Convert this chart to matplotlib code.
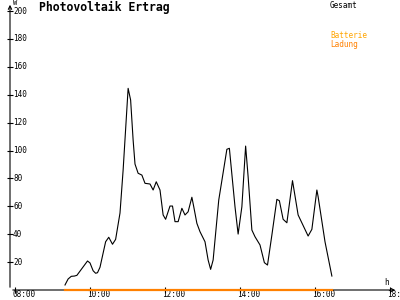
import matplotlib
matplotlib.use('Agg')
import matplotlib.pyplot as plt
from matplotlib.transforms import ScaledTranslation

# Ertrag in W, Zeitpunkte als HH:MM
times = ['09:20', '09:25', '09:30', '09:35', '09:39', '09:56', '10:00', '10:05', '10:09', '10:12',
         '10:16', '10:25', '10:30', '10:36', '10:41', '10:48', '10:53', '11:01', '11:05', '11:09',
         '11:12', '11:17', '11:23', '11:28', '11:36', '11:41', '11:46', '11:52', '11:57', '12:01',
         '12:08', '12:12', '12:16', '12:21', '12:27', '12:32', '12:37', '12:43', '12:46', '12:51',
         '12:56', '13:04', '13:09', '13:13', '13:17', '13:26', '13:39', '13:43', '13:52', '13:57',
         '14:03', '14:09', '14:13', '14:19', '14:24', '14:32', '14:39', '14:44', '14:51', '14:59',
         '15:03', '15:09', '15:15', '15:24', '15:33', '15:49', '15:55', '16:03', '16:05', '16:16',
         '16:27']
gesamt = [3.6, 7.9, 9.8, 10.0, 10.5, 20.8, 19.4, 13.8, 12.0, 12.4,
          16.3, 34.6, 37.8, 32.8, 36.3, 55.2, 86.0, 144.6, 136.2, 107.5,
          90.3, 83.7, 82.4, 76.5, 76.0, 71.7, 77.6, 71.7, 53.8, 50.7,
          60.2, 60.2, 49.0, 49.0, 58.6, 53.8, 56.1, 66.5, 59.7, 47.8,
          41.8, 34.6, 21.5, 14.8, 21.5, 64.5, 100.9, 101.6, 59.7, 40.1,
          59.7, 103.2, 81.2, 43.0, 38.2, 32.3, 19.6, 17.9, 39.4, 65.0,
          64.0, 50.7, 48.2, 78.4, 53.8, 38.7, 43.5, 71.7, 66.9, 34.6,
          10.0]
ladung = [0.0] * len(times)

x_ticks = [8, 10, 12, 14, 16, 18]
x_labels = ['08:00', '10:00', '12:00', '14:00', '16:00', '18:']
y_ticks = [20, 40, 60, 80, 100, 120, 140, 160, 180, 200]


def to_hours(t):
    h, m = t.split(':')
    return int(h) + int(m) / 60.0


hours = [to_hours(t) for t in times]
mono = 'DejaVu Sans Mono'

fig = plt.figure(figsize=(4, 3), dpi=100)
ax = fig.add_axes([10 / 400, 10 / 300, 388 / 400, 288 / 300])
ax.set_xlim(8 - 5 / 37.5, 8 + 383 / 37.5)
ax.set_ylim(0, 206.5)

ax.plot(hours, gesamt, color='black', lw=0.8)
ax.plot(hours, ladung, color='#ff8000', lw=1.6, clip_on=False, zorder=4)

for s in ax.spines.values():
    s.set_visible(False)
ax.annotate('', xy=(1, 0), xytext=(0, 0), xycoords='axes fraction',
            arrowprops=dict(arrowstyle='->', lw=0.8, color='black', mutation_scale=6))
ax.annotate('', xy=(0, 1), xytext=(0, 0), xycoords='axes fraction',
            arrowprops=dict(arrowstyle='->', lw=0.8, color='black', mutation_scale=6))

ax.set_xticks(x_ticks)
ax.set_yticks(y_ticks)
ax.set_xticklabels([])
ax.set_yticklabels([])
ax.tick_params(direction='inout', length=5, width=0.8, color='black')

xoff = ScaledTranslation(-3 / 100, -9 / 100, fig.dpi_scale_trans)
for xt, lab in zip(x_ticks, x_labels):
    ax.text(xt, 0, lab, transform=ax.get_xaxis_transform() + xoff, ha='left', va='bottom',
            fontsize=5.5, family=mono, clip_on=False)
yoff = ScaledTranslation(3 / 100, 0, fig.dpi_scale_trans)
for yt in y_ticks:
    ax.text(0, yt, str(yt), transform=ax.get_yaxis_transform() + yoff, ha='left', va='center',
            fontsize=5.5, family=mono)

fig.text(39 / 400, 1 - 1 / 300, 'Photovoltaik Ertrag', fontsize=8.3, family=mono,
         fontweight='bold', ha='left', va='top')
fig.text(13 / 400, 1 - 0 / 300, 'W', fontsize=5, family=mono, ha='left', va='top')
fig.text(384 / 400, 1 - 278 / 300, 'h', fontsize=5.5, family=mono, ha='left', va='top')
fig.text(330 / 400, 1 - 1 / 300, 'Gesamt', fontsize=5.5, family=mono, ha='left', va='top')
fig.text(330 / 400, 1 - 31 / 300, 'Batterie', fontsize=5.5, family=mono, color='#ffa500',
         ha='left', va='top')
fig.text(330 / 400, 1 - 40 / 300, 'Ladung', fontsize=5.5, family=mono, color='#ff8000',
         ha='left', va='top')

fig.savefig('out.png', dpi=100)
